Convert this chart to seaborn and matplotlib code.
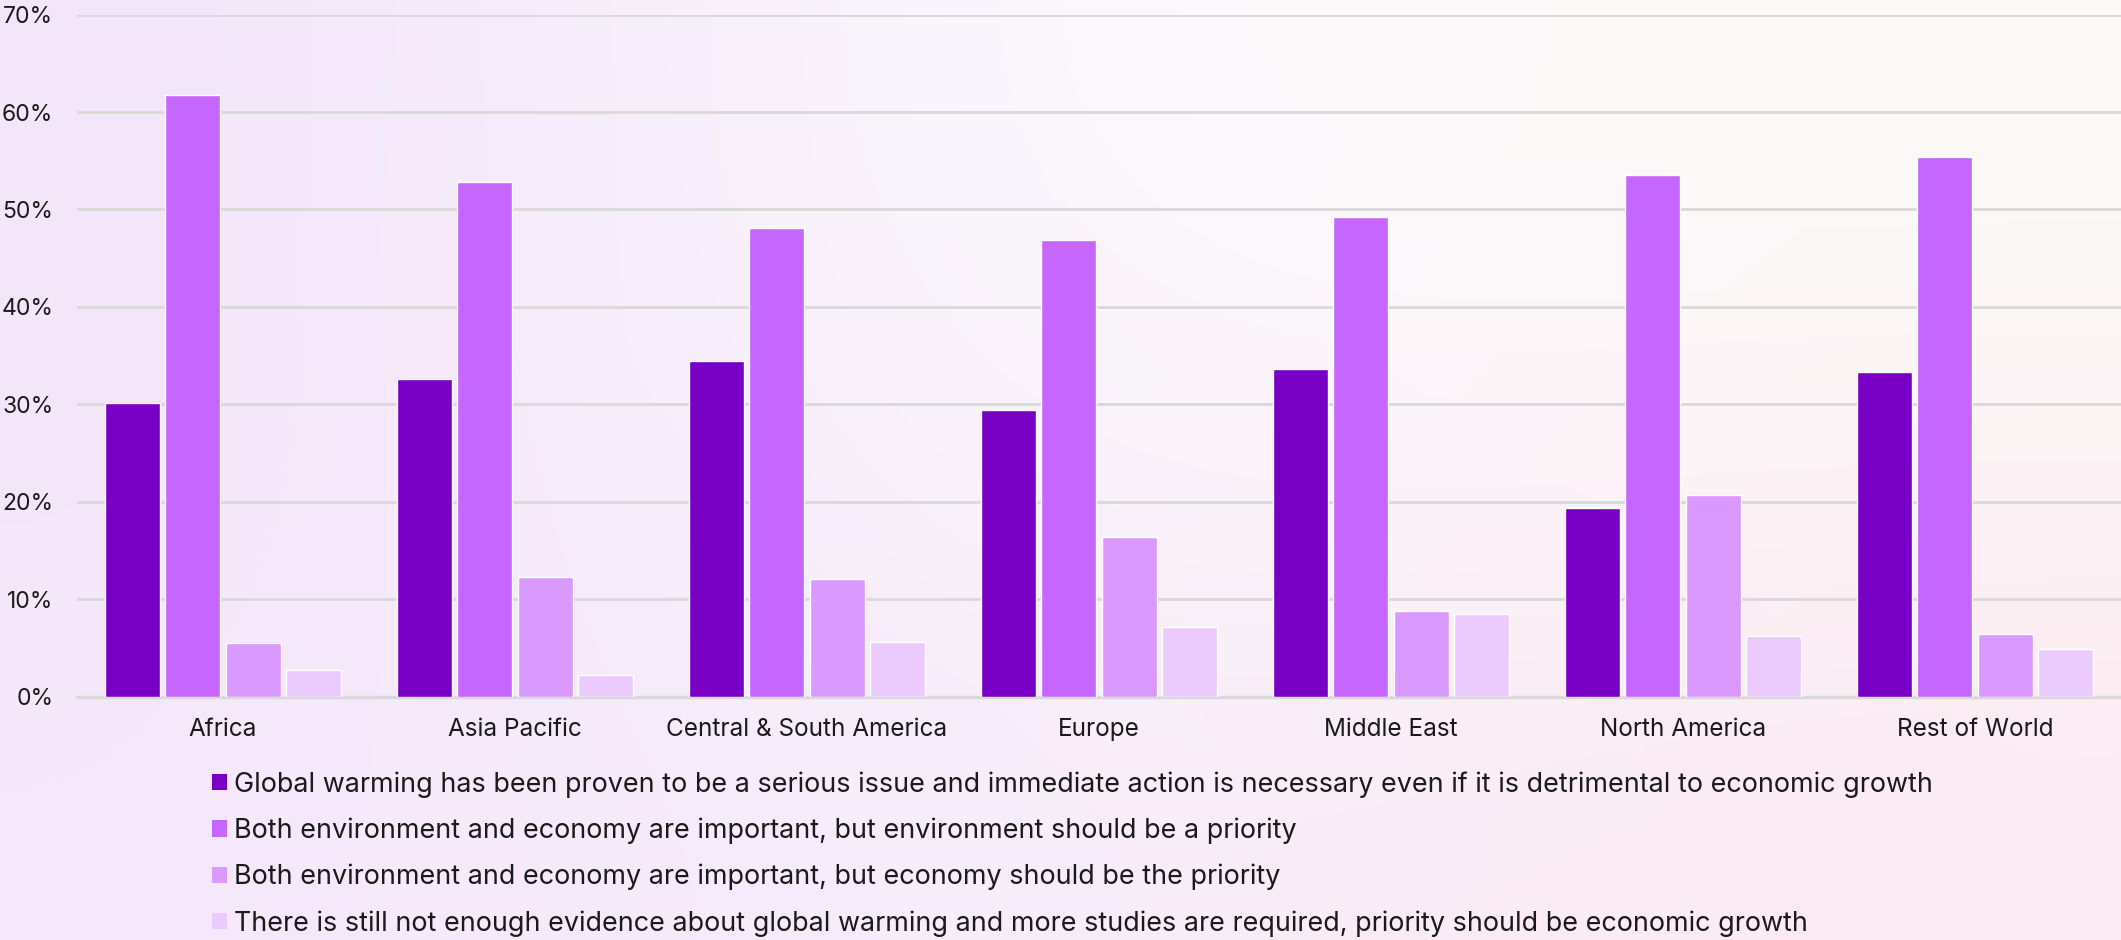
import numpy as np
import pandas as pd
import matplotlib
matplotlib.use("Agg")
import matplotlib.pyplot as plt
import seaborn as sns
from matplotlib.ticker import FuncFormatter
from matplotlib.patches import Patch

regions = ["Africa", "Asia Pacific", "Central & South America", "Europe",
           "Middle East", "North America", "Rest of World"]
series = [
    "Global warming has been proven to be a serious issue and immediate action is necessary even if it is detrimental to economic growth",
    "Both environment and economy are important, but environment should be a priority",
    "Both environment and economy are important, but economy should be the priority",
    "There is still not enough evidence about global warming and more studies are required, priority should be economic growth",
]
s1 = [30.1, 32.6, 34.4, 29.4, 33.6, 19.4, 33.3]
s2 = [61.7, 52.8, 48.1, 46.9, 49.2, 53.5, 55.4]
s3 = [5.5, 12.3, 12.1, 16.4, 8.8, 20.7, 6.4]
s4 = [2.7, 2.2, 5.6, 7.2, 8.5, 6.2, 4.9]
yticks = [0, 10, 20, 30, 40, 50, 60, 70]
colors = ["#7800c4", "#c566fe", "#d999fe", "#ebcbfe"]

rows = []
for name, vals in zip(series, [s1, s2, s3, s4]):
    for r, v in zip(regions, vals):
        rows.append({"region": r, "series": name, "value": v})
df = pd.DataFrame(rows)

sns.set_theme(style="white")
plt.rcParams['font.family'] = ['Inter', 'DejaVu Sans']

W, H = 2121, 940
fig = plt.figure(figsize=(W / 100, H / 100), dpi=100)

# background gradient
bg = fig.add_axes([0, 0, 1, 1], zorder=-10)
grid = np.array([
    [[0xf3, 0xe5, 0xfa], [0xfd, 0xfb, 0xfe], [0xfd, 0xfa, 0xf8]],
    [[0xf4, 0xe6, 0xf9], [0xfb, 0xf5, 0xfd], [0xfd, 0xf3, 0xf5]],
    [[0xf5, 0xe8, 0xfb], [0xf7, 0xee, 0xfb], [0xfc, 0xea, 0xf2]],
]) / 255.0
bg.imshow(grid, aspect='auto', interpolation='bicubic', extent=[0, 1, 0, 1])
bg.axis('off')

ax = fig.add_axes([77 / W, 1 - 696.7 / H, 1 - 77 / W, (696.7 - 14.6) / H])
ax.set_facecolor((1, 1, 1, 0))
sns.barplot(data=df, x="region", y="value", hue="series", palette=colors,
            width=0.83, gap=0.09, ax=ax, legend=False, saturation=1,
            errorbar=None, zorder=3)
ax.set_ylim(0, 70)
ax.set_xlim(-0.5, len(regions) - 0.5)
ax.set_yticks(yticks)
ax.yaxis.set_major_formatter(FuncFormatter(lambda v, p: f"{int(v)}%"))
ax.grid(axis='y', color="#d9d9d9", linewidth=2, zorder=0)
ax.set_axisbelow(True)
for s in ["top", "right", "left"]:
    ax.spines[s].set_visible(False)
ax.spines["bottom"].set_color("#d9d9d9")
ax.spines["bottom"].set_linewidth(2.5)
ax.tick_params(axis='both', length=0, colors="#1a1a1a")
ax.tick_params(axis='x', pad=15, labelsize=17.5)
ax.tick_params(axis='y', pad=17, labelsize=16.5)
ax.set_xlabel("")
ax.set_ylabel("")

handles = [Patch(facecolor=c, edgecolor='none') for c in colors]
fig.legend(handles, series, loc='upper left', bbox_to_anchor=(212 / W, 1 - 771 / H),
           frameon=False, fontsize=19.4, handlelength=0.56, handleheight=0.56,
           handletextpad=0.27, labelspacing=0.74, labelcolor="#1a1a1a",
           borderaxespad=0, borderpad=0)

fig.savefig("out.png", dpi=100)
